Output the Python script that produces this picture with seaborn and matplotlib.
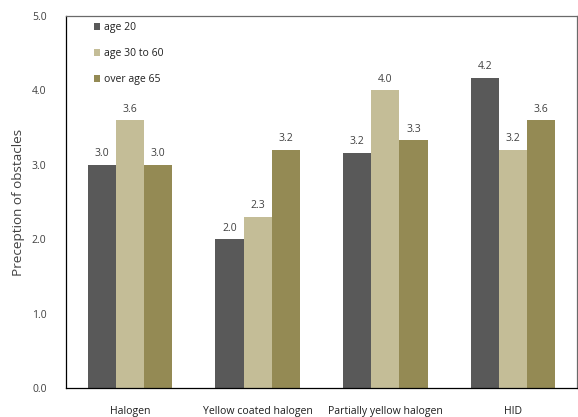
import matplotlib
matplotlib.use("Agg")
import matplotlib.pyplot as plt
import seaborn as sns
import pandas as pd

categories = ["Halogen", "Yellow coated halogen", "Partially yellow halogen", "HID"]
groups = ["age 20", "age 30 to 60", "over age 65"]
age_20 = [3.0, 2.0, 3.16, 4.17]
age_30_60 = [3.6, 2.3, 4.0, 3.2]
over_65 = [3.0, 3.2, 3.33, 3.6]
y_ticks = [0.0, 1.0, 2.0, 3.0, 4.0, 5.0]

colors = ["#595959", "#C4BD97", "#948A54"]

df = pd.DataFrame({
    "lamp": categories * 3,
    "group": [g for g in groups for _ in categories],
    "score": age_20 + age_30_60 + over_65,
})

sns.set_style("white")
plt.rcParams["font.family"] = ["Open Sans", "DejaVu Sans"]

fig = plt.figure(figsize=(5.78, 4.17), dpi=100)
ax = fig.add_axes([66 / 578, 1 - 388 / 417, (577 - 66) / 578, (388 - 16) / 417])

sns.barplot(data=df, x="lamp", y="score", hue="group", order=categories,
            hue_order=groups, palette=colors, width=0.66, gap=0,
            saturation=1, errorbar=None, ax=ax, edgecolor="none", linewidth=0)

for cont in ax.containers:
    ax.bar_label(cont, fmt="%.1f", padding=4, fontsize=7.5, color="#404040")

ax.set_ylim(0, 5)
ax.set_xlim(-0.5, len(categories) - 0.5)
ax.set_yticks(y_ticks)
ax.set_yticklabels([f"{v:.1f}" for v in y_ticks], fontsize=7.5, color="#404040")
ax.tick_params(axis="y", direction="in", length=3, width=0.8, color="black", pad=14)

# category boundaries carry the ticks, centres carry the labels
ax.set_xticks([i - 0.5 for i in range(len(categories) + 1)])
ax.set_xticklabels([""] * (len(categories) + 1))
ax.set_xticks(range(len(categories)), minor=True)
ax.set_xticklabels(categories, minor=True, fontsize=7.6, color="#202020")
ax.tick_params(axis="x", which="major", direction="out", length=4, width=0.8, color="black")
ax.tick_params(axis="x", which="minor", length=0, pad=13)

ax.set_xlabel("")
ax.set_ylabel("Preception of obstacles", fontsize=9.7, color="#404040", labelpad=5)

for side in ["left", "bottom"]:
    ax.spines[side].set_color("black")
    ax.spines[side].set_linewidth(0.9)
for side in ["top", "right"]:
    ax.spines[side].set_color("#6a6a6a")
    ax.spines[side].set_linewidth(0.9)

ax.legend(loc="upper left", bbox_to_anchor=(0.047, 0.995), frameon=False,
          fontsize=7.5, handlelength=0.6, handleheight=0.6, handletextpad=0.3,
          labelspacing=1.45, borderaxespad=0)
for t in ax.get_legend().get_texts():
    t.set_color("#202020")

fig.savefig("out.png", dpi=100)
